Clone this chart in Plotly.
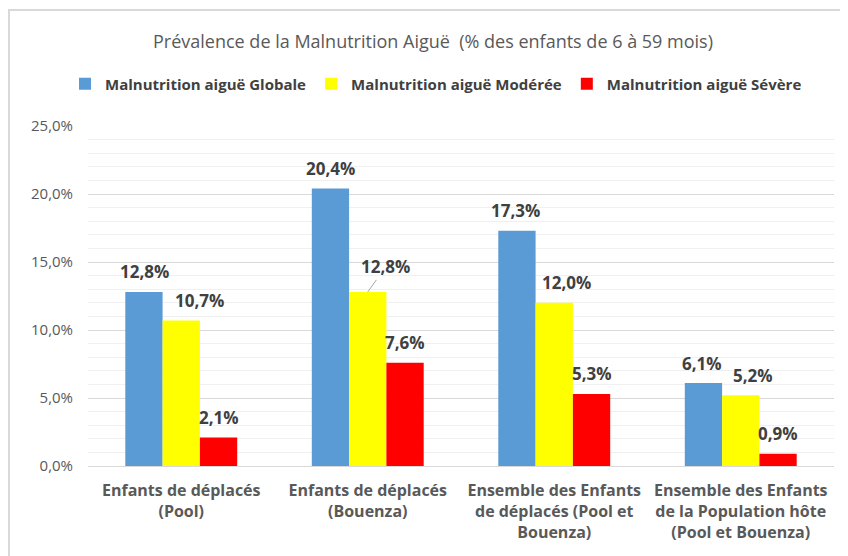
import plotly.graph_objects as go

categories = [
    "Enfants de déplacés<br>(Pool)",
    "Enfants de déplacés<br>(Bouenza)",
    "Ensemble des Enfants<br>de déplacés (Pool et<br>Bouenza)",
    "Ensemble des Enfants<br>de la Population hôte<br>(Pool et Bouenza)",
]
series_names = [
    "Malnutrition aiguë Globale",
    "Malnutrition aiguë Modérée",
    "Malnutrition aiguë Sévère",
]
globale = [12.8, 20.4, 17.3, 6.1]
moderee = [10.7, 12.8, 12.0, 5.2]
severe = [2.1, 7.6, 5.3, 0.9]
tick_values = [0, 5, 10, 15, 20, 25]
tick_labels = ["0,0%", "5,0%", "10,0%", "15,0%", "20,0%", "25,0%"]

colors = ["#5b9bd5", "#ffff00", "#ff0000"]
series = [globale, moderee, severe]

# page body has an 8px default margin: figure sized to fill the rest of the window
OFF = 8
W, H = 848 - OFF, 556 - OFF
ML, MR, MT, MB = 88 - OFF, 14, 126 - OFF, 90
bargap = 0.4
plot_w = W - ML - MR
plot_h = H - MT - MB
group_px = plot_w / len(categories)
bar_px = group_px * (1 - bargap) / 3

# label extra horizontal nudges (px), per series per category
label_dx = [
    [1, 0, -1, -1],
    [18, 18, 12, 12],
    [0, 0, 0, 0],
]
label_font = dict(family="Open Sans", size=17, color="#404040", weight="bold")

fig = go.Figure()
for name, vals, col in zip(series_names, series, colors):
    fig.add_trace(go.Bar(
        x=list(range(len(categories))), y=vals, name=name,
        marker=dict(color=col, line=dict(width=0)),
    ))

ann = []
for si, vals in enumerate(series):
    off = (si - 1) * bar_px
    for ci, v in enumerate(vals):
        txt = f"{v:.1f}%".replace(".", ",")
        if si == 1 and ci == 1:
            ann.append(dict(
                x=ci, y=v, xref="x", yref="y", text=txt, xshift=off,
                showarrow=True, arrowhead=0, arrowwidth=1, arrowcolor="#a6a6a6",
                ax=label_dx[si][ci], ay=-25, standoff=0, font=label_font,
            ))
        else:
            ann.append(dict(
                x=ci, y=v, xref="x", yref="y", text=txt,
                xshift=off + label_dx[si][ci], yshift=20, yanchor="middle",
                showarrow=False, font=label_font,
            ))

# outer chart frame (right and bottom edges fall outside the window)
fig.add_shape(type="rect", xref="paper", yref="paper",
              x0=(9 - OFF - ML) / plot_w, x1=(870 - OFF - ML) / plot_w,
              y0=(H - MB - (580 - OFF)) / plot_h,
              y1=(H - MB - (10 - OFF)) / plot_h,
              line=dict(color="#d9d9d9", width=2), fillcolor="rgba(0,0,0,0)", layer="below")

fig.update_layout(
    width=W, height=H,
    margin=dict(l=ML, r=MR, t=MT, b=MB, autoexpand=False),
    paper_bgcolor="white", plot_bgcolor="white",
    barmode="group", bargap=bargap, bargroupgap=0,
    title=dict(
        text="Prévalence de la Malnutrition Aiguë  (% des enfants de 6 à 59 mois)",
        x=(433 - OFF) / W, xanchor="center", xref="container",
        y=1 - (42 - OFF) / H, yanchor="middle", yref="container",
        font=dict(family="Open Sans", size=18, color="#595959"),
    ),
    legend=dict(
        orientation="h", x=(436 - OFF) / W, xanchor="center", xref="container",
        y=1 - (84 - OFF) / H, yanchor="middle", yref="container",
        font=dict(family="Open Sans", size=15, color="#404040", weight="bold"),
        itemwidth=30, traceorder="normal",
    ),
    annotations=ann,
    showlegend=True,
)
fig.update_xaxes(
    tickmode="array", tickvals=list(range(len(categories))), ticktext=categories,
    range=[-0.5, len(categories) - 0.5],
    showgrid=False, zeroline=False, showline=True, linecolor="#d9d9d9", linewidth=1,
    ticks="", ticklabelstandoff=10,
    tickfont=dict(family="Open Sans", size=16, color="#595959", weight="bold"),
)
fig.update_yaxes(
    range=[0, 25], tickmode="array", tickvals=tick_values, ticktext=tick_labels,
    showgrid=True, gridcolor="#d9d9d9", gridwidth=1, zeroline=False,
    minor=dict(dtick=1, showgrid=True, gridcolor="#f0f0f0", gridwidth=1),
    ticks="", ticklabelstandoff=14,
    tickfont=dict(family="Open Sans", size=15, color="#595959"),
)

fig.write_html("out.html")
